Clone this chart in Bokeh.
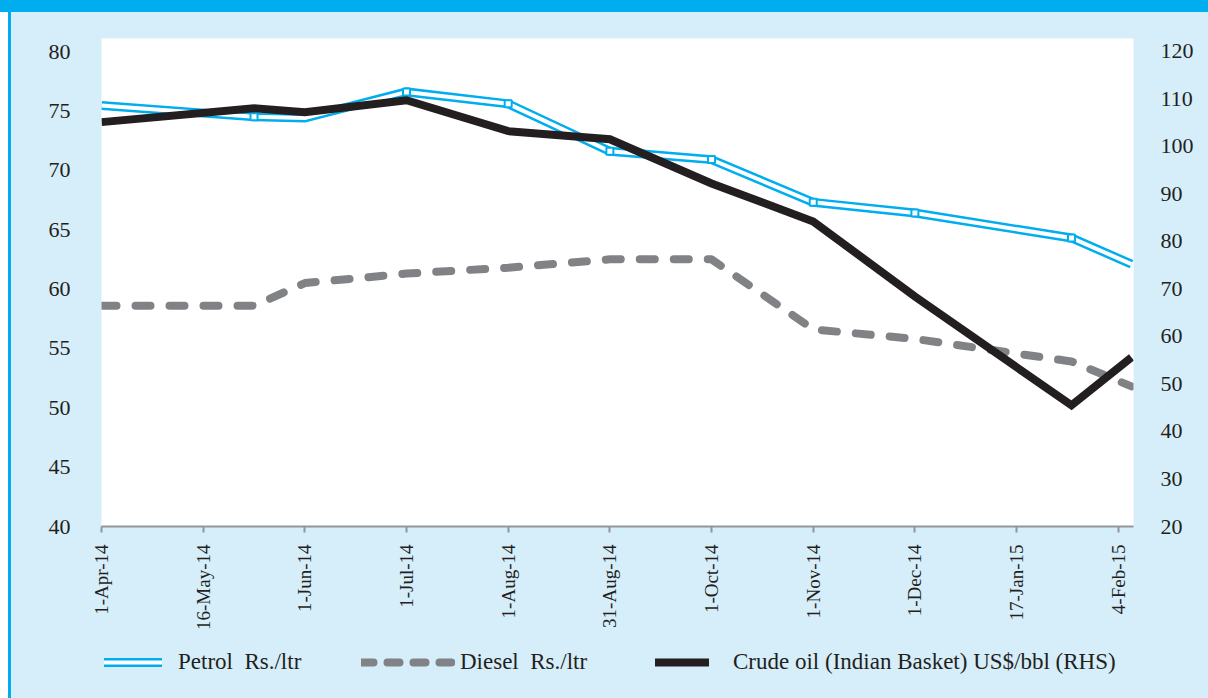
from bokeh.plotting import figure
from bokeh.models import Range1d, LinearAxis, FixedTicker, Legend, LegendItem
from bokeh.layouts import column
from bokeh.embed import file_html
from bokeh.resources import INLINE
import math

# ---- data ----
tick_labels = ["1-Apr-14", "16-May-14", "1-Jun-14", "1-Jul-14", "1-Aug-14", "31-Aug-14",
               "1-Oct-14", "1-Nov-14", "1-Dec-14", "17-Jan-15", "4-Feb-15"]
x_pos = [0, 1.5, 2, 3, 4, 5, 6, 7, 8, 9.54, 10.13]
petrol = [75.45, 74.5, 74.4, 76.6, 75.6, 71.6, 70.9, 67.3, 66.4, 64.3, 62.1]
diesel = [58.6, 58.6, 60.5, 61.3, 61.8, 62.5, 62.5, 56.6, 55.8, 53.9, 51.8]
crude = [105.1, 108.0, 107.2, 109.7, 103.2, 101.5, 92.2, 84.2, 68.4, 45.5, 55.6]
petrol_marked = [False, True, False, True, True, True, True, True, True, True, False]
left_ticks = [40, 45, 50, 55, 60, 65, 70, 75, 80]
right_ticks = [20, 30, 40, 50, 60, 70, 80, 90, 100, 110, 120]
series_labels = ["Petrol  Rs./ltr", "Diesel  Rs./ltr", "Crude oil (Indian Basket) US$/bbl (RHS)"]

BLUE = "#00AEEF"
LIGHT = "#D6EDFA"
BLACK = "#231F20"
GREY = "#808285"
AXIS_GREY = "#939598"
FONT = "Liberation Serif"

p = figure(width=1197, height=628, output_backend="svg", toolbar_location=None,
           x_range=Range1d(0, 10.15), y_range=Range1d(40, 81.1),
           min_border_left=90, min_border_right=75, min_border_top=26, min_border_bottom=114)
p.background_fill_color = "white"
p.border_fill_color = LIGHT
p.outline_line_color = None
p.grid.visible = False
p.extra_y_ranges = {"rhs": Range1d(20, 122.7)}

# axes
p.xaxis.ticker = FixedTicker(ticks=list(range(len(tick_labels))))
p.xaxis.major_label_overrides = {i: t for i, t in enumerate(tick_labels)}
p.xaxis.major_label_orientation = math.pi / 2
p.xaxis.axis_line_color = AXIS_GREY
p.xaxis.axis_line_width = 2
p.xaxis.major_tick_line_color = AXIS_GREY
p.xaxis.major_tick_line_width = 2
p.xaxis.major_tick_out = 6
p.xaxis.major_tick_in = 0
p.xaxis.minor_tick_line_color = None
p.xaxis.major_label_standoff = 12
p.xaxis.major_label_text_font = FONT
p.xaxis.major_label_text_font_size = "19px"
p.xaxis.major_label_text_color = BLACK

p.yaxis.ticker = FixedTicker(ticks=left_ticks)
p.yaxis.axis_line_color = None
p.yaxis.major_tick_line_color = None
p.yaxis.minor_tick_line_color = None
p.yaxis.major_tick_out = 0
p.yaxis.major_label_standoff = 31
p.yaxis.major_label_text_font = FONT
p.yaxis.major_label_text_font_size = "22px"
p.yaxis.major_label_text_color = BLACK

raxis = LinearAxis(y_range_name="rhs", ticker=FixedTicker(ticks=right_ticks))
raxis.axis_line_color = None
raxis.major_tick_line_color = None
raxis.minor_tick_line_color = None
raxis.major_tick_out = 0
raxis.major_label_standoff = 27
raxis.major_label_text_font = FONT
raxis.major_label_text_font_size = "22px"
raxis.major_label_text_color = BLACK
p.add_layout(raxis, "right")

# series
p.line(x_pos, diesel, line_color=GREY, line_width=8, line_dash="15 19", line_cap="round",
       line_join="round")
p.line(x_pos, petrol, line_color=BLUE, line_width=9, line_join="miter")
p.line(x_pos, petrol, line_color="white", line_width=4, line_join="miter")
mx = [x for x, m in zip(x_pos, petrol_marked) if m]
my = [y for y, m in zip(petrol, petrol_marked) if m]
p.scatter(mx, my, marker="square", size=7, fill_color="white", line_color=BLUE, line_width=2)
p.line(x_pos, crude, line_color=BLACK, line_width=8, line_join="miter", y_range_name="rhs")

# legend strip: a transparent second figure; its renderers use the same series,
# which fall outside its (0..1) y-range, so only the legend glyphs show.
q = figure(width=1197, height=58, output_backend="svg", toolbar_location=None,
           x_range=Range1d(0, 1), y_range=Range1d(0, 1), x_axis_type=None, y_axis_type=None,
           min_border_left=0, min_border_right=0, min_border_top=0, min_border_bottom=0)
q.background_fill_alpha = 0
q.border_fill_alpha = 0
q.outline_line_color = None
q.grid.visible = False

lp_b = q.line(x_pos, petrol, line_color=BLUE, line_width=9, line_cap="round")
lp_w = q.line(x_pos, petrol, line_color="white", line_width=4, line_cap="round")
ld = q.line(x_pos, diesel, line_color=GREY, line_width=8, line_dash="12 14", line_cap="round")
lc = q.line(x_pos, crude, line_color=BLACK, line_width=8, line_cap="round")


def mk_legend(label, renderers, x, gw, standoff):
    lg = Legend(items=[LegendItem(label=label, renderers=renderers)], location=(x, 23),
                orientation="horizontal", padding=0, margin=0, glyph_width=gw, glyph_height=24,
                label_height=24, label_standoff=standoff, background_fill_alpha=0,
                border_line_alpha=0, label_text_font=FONT, label_text_font_size="23px",
                label_text_color=BLACK)
    q.add_layout(lg, "center")


mk_legend(series_labels[0], [lp_b, lp_w], 3, 58, 16)
mk_legend(series_labels[1], [ld], 260, 94, 5)
mk_legend(series_labels[2], [lc], 554, 54, 24)

layout = column(p, q, spacing=0, styles={
    "padding-top": "12px", "padding-left": "11px",
    "background": "linear-gradient(#00AEEF, #00AEEF) top left / 100% 12px no-repeat, "
                  "linear-gradient(to right, white 8px, #00AEEF 8px, #00AEEF 11px, #D6EDFA 11px)"})

open("out.html", "w").write(file_html(layout, INLINE))
